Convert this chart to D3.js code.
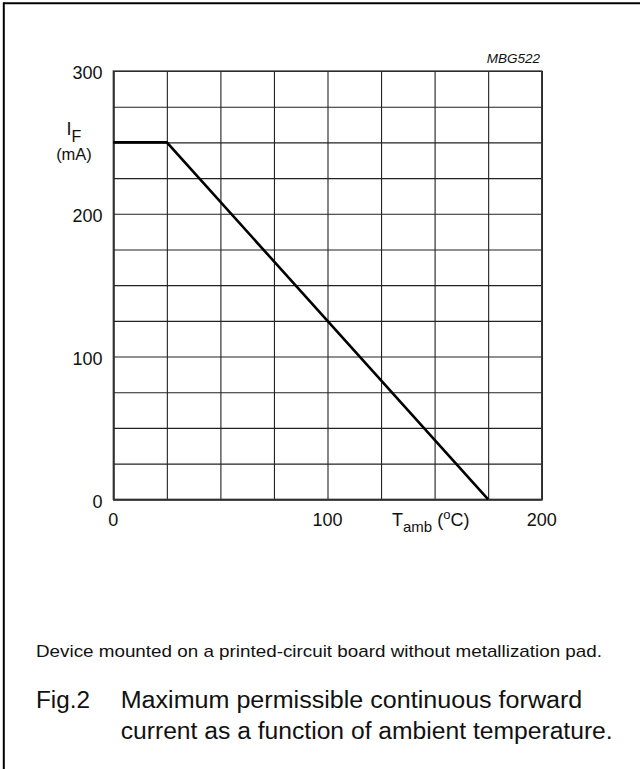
<!DOCTYPE html>
<html>
<head>
<meta charset="utf-8">
<script src="https://cdn.jsdelivr.net/npm/d3@7"></script>
<style>
  html, body { margin: 0; padding: 0; background: #fff; }
  svg { display: block; font-family: "Liberation Sans", Arial, Helvetica, sans-serif; }
</style>
</head>
<body>
<script>
// ---- data ----
const temperature = [0, 25, 175];          // Tamb (°C)
const current = [250, 250, 0];             // IF (mA)
const xGridValues = [0, 25, 50, 75, 100, 125, 150, 175, 200];
const yGridValues = [0, 25, 50, 75, 100, 125, 150, 175, 200, 225, 250, 275, 300];
const xTickLabels = [0, 100, 200];
const yTickLabels = [0, 100, 200, 300];
const figCode = "MBG522";
const noteText = "Device mounted on a printed-circuit board without metallization pad.";
const figLabel = "Fig.2";
const captionLines = ["Maximum permissible continuous forward", "current as a function of ambient temperature."];

// ---- layout ----
const W = 640, H = 769;
const plotL = 113.3, plotR = 541.7, plotT = 71, plotB = 499.3;

const svg = d3.select("body").append("svg").attr("width", W).attr("height", H);

// outer frame (top and left edges visible)
svg.append("line").attr("x1", 3.8).attr("x2", W).attr("y1", 3.3).attr("y2", 3.3)
  .attr("stroke", "#000").attr("stroke-width", 2);
svg.append("line").attr("x1", 3.8).attr("x2", 3.8).attr("y1", 2.3).attr("y2", H)
  .attr("stroke", "#000").attr("stroke-width", 2);

const x = d3.scaleLinear().domain([0, 200]).range([plotL, plotR]);
const y = d3.scaleLinear().domain([0, 300]).range([plotB, plotT]);

// grid via axes
const gx = svg.append("g").attr("transform", `translate(0,${plotB})`)
  .call(d3.axisBottom(x).tickValues(xGridValues).tickSize(-(plotB - plotT)).tickFormat(""));
const gy = svg.append("g").attr("transform", `translate(${plotL},0)`)
  .call(d3.axisLeft(y).tickValues(yGridValues).tickSize(-(plotR - plotL)).tickFormat(""));
[gx, gy].forEach(g => {
  g.select(".domain").attr("stroke", "#222").attr("stroke-width", 1.2);
  g.selectAll(".tick line").attr("stroke", "#222").attr("stroke-width", 1.1);
});
// plot frame
svg.append("rect").attr("x", plotL).attr("y", plotT).attr("width", plotR - plotL).attr("height", plotB - plotT)
  .attr("fill", "none").attr("stroke", "#333").attr("stroke-width", 1.3);

// tick labels
svg.append("g").selectAll("text").data(yTickLabels).join("text")
  .attr("x", 102.5).attr("y", d => y(d) + 8.2)
  .attr("text-anchor", "end").attr("font-size", 18).attr("fill", "#111")
  .text(d => d);
svg.append("g").selectAll("text").data(xTickLabels).join("text")
  .attr("x", d => x(d)).attr("y", 526)
  .attr("text-anchor", "middle").attr("font-size", 18).attr("fill", "#111")
  .text(d => d);

// data line
const line = d3.line().x((d, i) => x(temperature[i])).y(d => y(d));
svg.append("path").datum(current).attr("d", line)
  .attr("fill", "none").attr("stroke", "#000").attr("stroke-width", 2.6)
  .attr("stroke-linejoin", "miter");

// y-axis label IF (mA)
const yl = svg.append("text").attr("x", 66.5).attr("y", 135).attr("fill", "#111").attr("font-size", 18);
yl.append("tspan").text("I");
yl.append("tspan").attr("font-size", 16).attr("dy", 6.7).text("F");
svg.append("text").attr("x", 74).attr("y", 160).attr("text-anchor", "middle")
  .attr("font-size", 16.5).attr("fill", "#111").text("(mA)");

// x-axis label Tamb (oC)
const xl = svg.append("text").attr("x", 392).attr("y", 526).attr("fill", "#111").attr("font-size", 18);
xl.append("tspan").text("T");
xl.append("tspan").attr("font-size", 15).attr("dy", 6.3).text("amb");
xl.append("tspan").attr("dy", -6.3).text(" (");
xl.append("tspan").attr("font-size", 13).attr("dy", -7).text("o");
xl.append("tspan").attr("dy", 7).text("C)");

// figure code
svg.append("text").attr("x", 540).attr("y", 63).attr("text-anchor", "end")
  .attr("font-size", 13.5).attr("font-style", "italic").attr("fill", "#111").text(figCode);

// note + caption
svg.append("text").attr("x", 36).attr("y", 656.7).attr("font-size", 17).attr("fill", "#111")
  .attr("textLength", 566).attr("lengthAdjust", "spacingAndGlyphs").text(noteText);
svg.append("text").attr("x", 36).attr("y", 707.7).attr("font-size", 23).attr("fill", "#111")
  .attr("textLength", 54).attr("lengthAdjust", "spacingAndGlyphs").text(figLabel);
const capLen = [461.6, 492];
svg.append("g").selectAll("text").data(captionLines).join("text")
  .attr("x", 120.7).attr("y", (d, i) => 707.7 + i * 31.6)
  .attr("font-size", 23).attr("fill", "#111")
  .attr("textLength", (d, i) => capLen[i]).attr("lengthAdjust", "spacingAndGlyphs")
  .text(d => d);
</script>
</body>
</html>
